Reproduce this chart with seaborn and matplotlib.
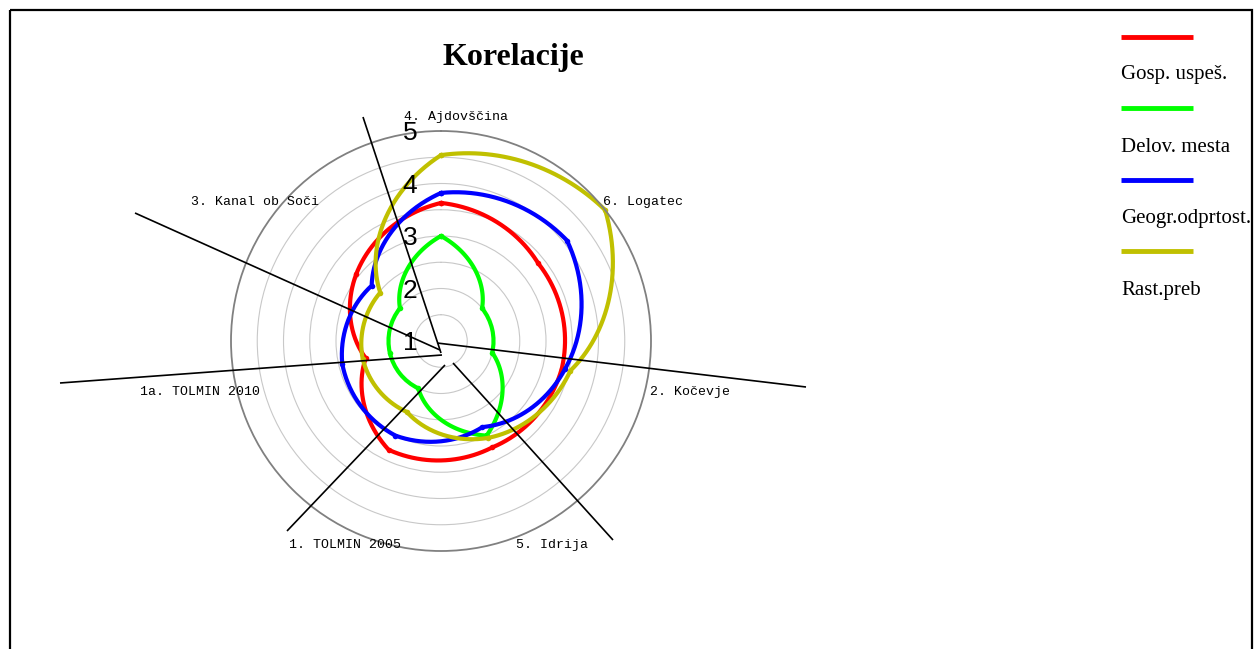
import numpy as np
import pandas as pd
import matplotlib
matplotlib.use("Agg")
import matplotlib.pyplot as plt
from matplotlib.patches import Rectangle
from matplotlib.transforms import ScaledTranslation
import seaborn as sns

# ---- data -------------------------------------------------------------
categories = ["4. Ajdovščina", "6. Logatec", "2. Kočevje", "5. Idrija",
              "1. TOLMIN 2005", "1a. TOLMIN 2010", "3. Kanal ob Soči"]
series_names = ["Gosp. uspeš.", "Delov. mesta", "Geogr.odprtost.", "Rast.preb"]
gosp_uspes = [3.63, 3.37, 3.36, 3.25, 3.30, 2.47, 3.06]
delov_mesta = [3.0, 2.0, 2.0, 3.0, 2.0, 2.0, 2.0]
geogr_odprtost = [3.82, 4.07, 3.42, 2.82, 3.00, 2.93, 2.69]
rast_preb = [4.54, 5.00, 3.53, 3.05, 2.50, 2.53, 2.48]
r_tick_labels = [1, 2, 3, 4, 5]
title = "Korelacije"

colors = ["#ff0000", "#00ff00", "#0000ff", "#c0c000"]

sns.set_style("white")
plt.rcParams["font.family"] = ["Liberation Sans", "DejaVu Sans"]
plt.rcParams["text.color"] = "black"

W, H, DPI = 1254, 649, 100
fig = plt.figure(figsize=(W / DPI, H / DPI), dpi=DPI)
fig.patch.set_facecolor("white")

# polar plotting area: centre and radius in pixels
cx, cy, R = 441, 341, 210
ax = fig.add_axes([(cx - R) / W, (H - cy - R) / H, 2 * R / W, 2 * R / H],
                  projection="polar")
ax.set_theta_zero_location("N")
ax.set_theta_direction(-1)
ax.set_facecolor("white")

n = len(categories)
theta = np.arange(n) * 2 * np.pi / n
theta_closed = np.append(theta, 2 * np.pi)

rows = []
for name, vals in zip(series_names,
                      [gosp_uspes, delov_mesta, geogr_odprtost, rast_preb]):
    for t, v in zip(theta_closed, list(vals) + [vals[0]]):
        rows.append({"theta": t, "value": v, "series": name})
df = pd.DataFrame(rows)

sns.lineplot(data=df, x="theta", y="value", hue="series",
             hue_order=series_names, palette=colors, sort=False,
             estimator=None, ax=ax, lw=3, marker="o", ms=4, mew=0,
             legend=False, clip_on=False)

# draw segments in polar space (spiral arcs between the category points)
for ln in ax.lines:
    ln.get_path()._interpolation_steps = 90
    ln.recache(always=True)

ax.set_ylim(1, 5)
ax.set_yticks(np.arange(1.5, 5.0, 0.5))
ax.set_yticklabels([])
ax.set_xticks([])
ax.yaxis.grid(True, color="#c8c8c8", lw=0.8)
ax.xaxis.grid(False)
ax.spines["polar"].set_color("#808080")
ax.spines["polar"].set_linewidth(1.3)
ax.set_xlabel("")
ax.set_ylabel("")

# radial value labels, set a little to the left of the top spoke
off = ScaledTranslation(-31 / DPI, -2 / DPI, fig.dpi_scale_trans)
for k in r_tick_labels:
    ax.text(0, k, str(k), transform=ax.transData + off, ha="center",
            va="center", fontsize=19, family="Liberation Sans",
            clip_on=False, color="black")

# category labels (clock angle in degrees, radius in data units)
label_theta = [3.8, 55.5, 101.6, 151.5, 205.2, 258.1, 306.8]
label_r = [5.28, 5.67, 5.84, 5.42, 5.30, 5.69, 5.42]
for lab, t, r in zip(categories, label_theta, label_r):
    ax.text(np.deg2rad(t), r, lab, ha="center", va="center", fontsize=9.5,
            family="Liberation Mono", clip_on=False, color="black")

# overlay in pixel space for spokes, legend and frame
ov = fig.add_axes([0, 0, 1, 1], facecolor="none")
ov.set_xlim(0, W)
ov.set_ylim(H, 0)
ov.axis("off")

spokes = [((441, 353), (363, 117)),
          ((440, 350), (135, 213)),
          ((437, 343), (806, 387)),
          ((442, 355), (60, 383)),
          ((445, 365), (287, 531)),
          ((453, 363), (613, 540))]
for (x0, y0), (x1, y1) in spokes:
    ov.plot([x0, x1], [y0, y1], color="black", lw=1.2, solid_capstyle="butt")

leg_x0, leg_x1 = 1121, 1193
leg_line_y = [37, 108, 180, 251]
leg_text_y = [75, 148, 219, 291]
for name, col, ly, ty in zip(series_names, colors, leg_line_y, leg_text_y):
    ov.plot([leg_x0, leg_x1], [ly, ly], color=col, lw=3.5,
            solid_capstyle="butt")
    ov.text(leg_x0, ty, name, ha="left", va="center", fontsize=15,
            family="Liberation Serif", color="black", clip_on=True)

ov.add_patch(Rectangle((9.5, 9.5), 1242.5, 700, fill=False,
                       edgecolor="black", lw=1.6, clip_on=False))

fig.text(513 / W, 1 - 58 / H, title, ha="center", va="center",
         fontsize=23, fontweight="bold", family="Liberation Serif",
         color="black")

fig.savefig("out.png", dpi=DPI, facecolor="white")
